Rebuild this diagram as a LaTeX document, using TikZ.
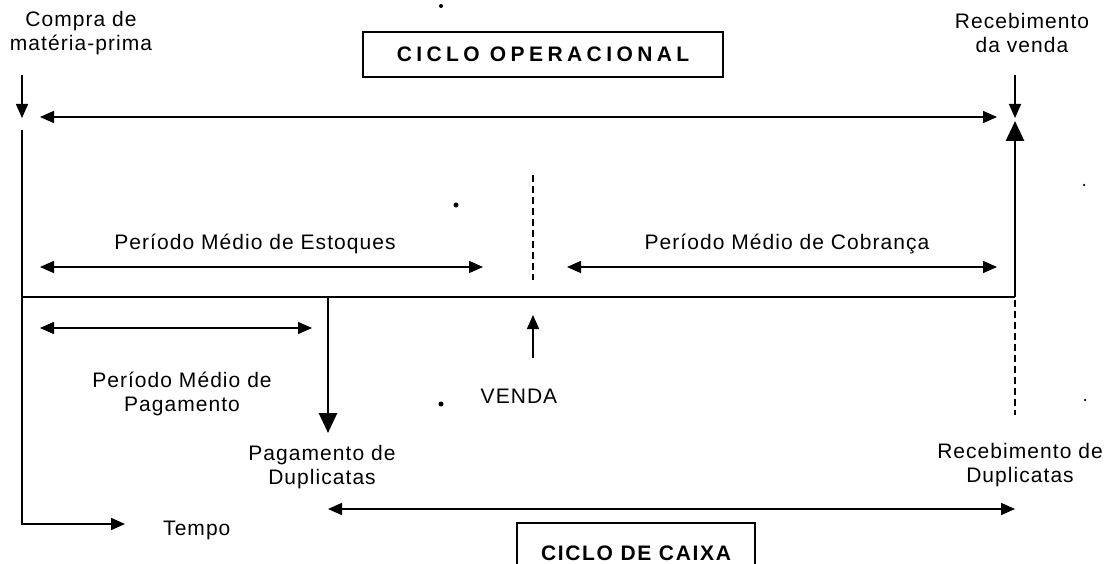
\documentclass[tikz,border=0pt]{standalone}
\usepackage{fontspec}
\setmainfont{Liberation Sans}[LetterSpace=5]
\usetikzlibrary{arrows.meta,positioning}

\begin{document}
\begin{tikzpicture}[x=1pt,y=-1pt,
  lbl/.style={font=\fontsize{21}{24}\selectfont,align=center,inner sep=0pt},
  cyclebox/.style={draw,line width=1.4pt,font=\fontsize{21}{24}\selectfont\bfseries,inner sep=0pt},
  arr/.style={line width=1.5pt,-{Triangle[length=14pt,width=12pt]}},
  dblarr/.style={line width=1.5pt,{Triangle[length=14pt,width=12pt]}-{Triangle[length=14pt,width=12pt]}},
  bigarr/.style={line width=2.8pt,-{Triangle[length=20pt,width=18pt]}},
  dashline/.style={line width=1.4pt,dash pattern=on 7pt off 4pt},
  speck/.style={fill,circle,inner sep=0pt,minimum size=#1}]
\useasboundingbox (0,0) rectangle (1113,564);

% texts
\node[lbl] (compra) at (81,33) {Compra de\\matéria-prima};
\node[lbl] (recvenda) at (1022,33) {Recebimento\\da venda};
\node[cyclebox,minimum width=360pt,minimum height=45pt] (opciclo) at (543,54.5) {\addfontfeature{LetterSpace=21}CICLO OPERACIONAL};
\node[cyclebox,minimum width=238pt,minimum height=60pt] (cxciclo) at (636,553) {\addfontfeature{LetterSpace=8}CICLO DE CAIXA};
\node[lbl] (pme) at (255,244) {Período Médio de Estoques};
\node[lbl] (pmc) at (787,244) {Período Médio de Cobrança};
\node[lbl] (pmp) at (182,394) {Período Médio de\\Pagamento};
\node[lbl] (venda) at (519,396) {VENDA};
\node[lbl] (pagdup) at (322,467) {Pagamento de\\Duplicatas};
\node[lbl] (recdup) at (1020,465) {Recebimento de\\Duplicatas};
\node[lbl,anchor=west] (tempo) at (163,530) {Tempo};

% points on the time line
\coordinate (t0) at (22,297);
\coordinate (tpag) at (328,297);
\coordinate (tvenda) at (533,297);
\coordinate (trec) at (1015,297);

% compra / recebimento
\draw[arr] (22,75) coordinate (cin) -- (22,118) coordinate (cout);
\draw[arr] (1015,75) coordinate (rin) -- (1015,118) coordinate (rout);
\draw[dblarr] (40,117) coordinate (opa) -- (997,117) coordinate (opb);

% eixo do tempo
\draw[arr] (22,130) coordinate (ax0) -- (22,524) coordinate (ax1) -- (125,524) coordinate (ax2);
\draw[line width=1.6pt] (t0) -- (trec);
\draw[bigarr] (trec) -- (1015,121) coordinate (rtop);
\draw[bigarr] (tpag) -- (328,433) coordinate (pbot);

% periodos
\draw[dashline] (533,175) coordinate (d0) -- (533,280) coordinate (d1);
\draw[dblarr] (40,267) coordinate (ea) -- (483,267) coordinate (eb);
\draw[dblarr] (567,267) coordinate (ca) -- (997,267) coordinate (cb);
\draw[dblarr] (40,328) coordinate (pa) -- (312,328) coordinate (pb);
\draw[arr] (533,358) coordinate (v0) -- (533,315) coordinate (v1);
\draw[dashline] (1015,300) coordinate (r0) -- (1015,415) coordinate (r1);
\draw[dblarr] (328,509) coordinate (ka) -- (1015,509) coordinate (kb);

% pontos soltos
\node[speck=4pt] (s1) at (441,6) {};
\node[speck=5pt] (s2) at (456,205) {};
\node[speck=5pt] (s3) at (441,404) {};
\node[speck=2.5pt] (s4) at (1084,185) {};
\node[speck=2.5pt] (s5) at (1085,400) {};
\end{tikzpicture}
\end{document}
